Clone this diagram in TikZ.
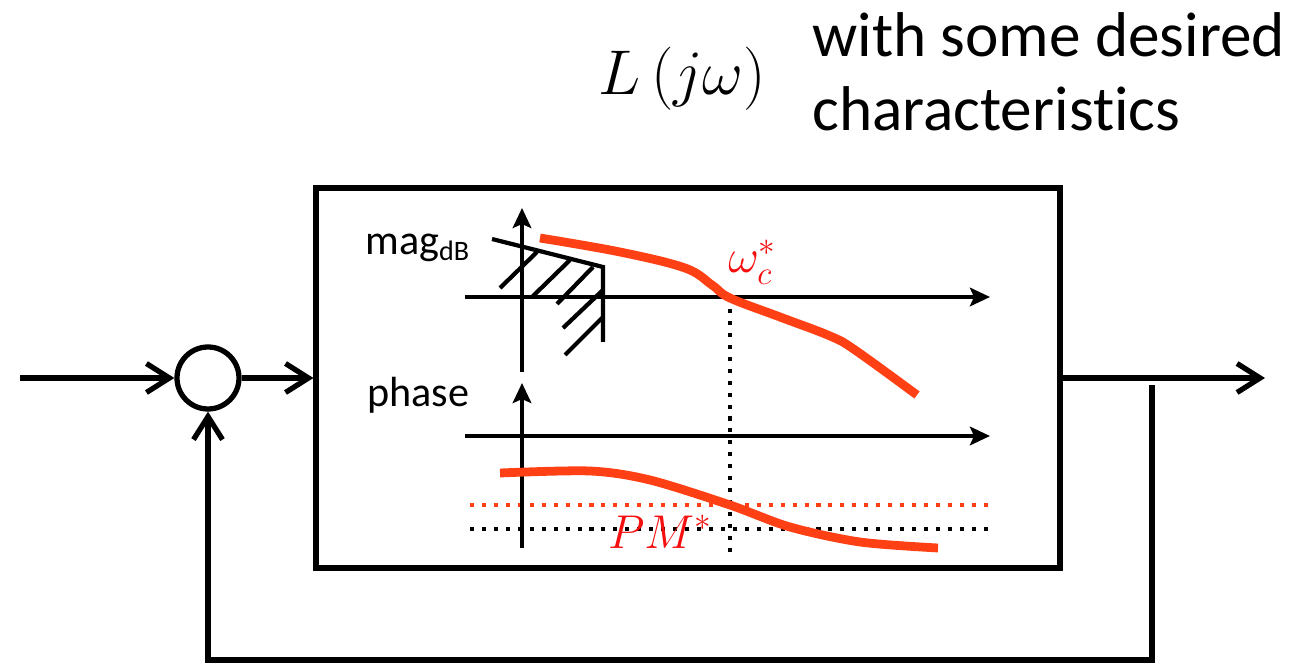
\RequirePackage{fix-cm}
\documentclass[tikz,border=0pt]{standalone}
\usepackage{fontspec}
\setmainfont[Ligatures=NoCommon]{Carlito}
\usetikzlibrary{arrows.meta}
\definecolor{bodered}{RGB}{255,64,20}
\definecolor{labelred}{RGB}{245,15,15}

\begin{document}
\begin{tikzpicture}[
  x=0.02cm, y=-0.02cm,
  wire/.style={line width=3pt},
  arrow/.style={wire, -{Straight Barb[length=0.46cm, width=0.58cm]}},
  axis/.style={line width=2.4pt, -{Stealth[length=0.4cm, width=0.37cm, inset=0.08cm]}},
  dots/.style={line width=2.3pt, dash pattern=on 2.3pt off 4.5pt},
  bode/.style={line width=5pt, bodered},
  lbl/.style={font=\fontsize{24}{28}\selectfont, inner sep=0pt},
  mlbl/.style={font=\fontsize{27}{31}\selectfont, text=labelred, inner sep=0pt}
]
\useasboundingbox (0,0) rectangle (1315,665);

% loop
\node (sum)  [circle, draw, wire, minimum size=1.24cm, inner sep=0pt] at (208,378) {};
\node (loop) [draw, wire, minimum width=14.88cm, minimum height=7.6cm, inner sep=0pt] at (688,378) {};
\coordinate (in)  at (20,378);
\coordinate (out) at (1265,378);
\coordinate (tap) at (1152,385);
\coordinate (bot) at (208,660);
\draw [arrow] (in) -- (sum);
\draw [arrow] (sum) -- (loop);
\draw [arrow] (loop) -- (out);
\draw [arrow] (tap) |- (bot) -- (sum);

% title
\node (gain) [anchor=base west, inner sep=0pt, font=\fontsize{36}{43}\selectfont] at (598,95) {$L\left(j\omega\right)$};
\node (goal) [anchor=north west, align=left, inner sep=0pt, font=\fontsize{36}{42.5}\selectfont] at (812,12) {with some desired\\characteristics};

% magnitude plot
\node (mag) [lbl, anchor=base west] at (365,255) {mag\raisebox{-3pt}{\fontsize{16}{16}\selectfont dB}};
\draw [dots] (730,297) -- (730,553);
\draw [axis] (465,297) -- (990,297);
\draw [axis] (522,372) -- (522,208);
\draw [line width=2.4pt] (492,239) -- (603,267) -- (603,342);
\foreach \a/\b/\c/\d in {500/288/537/252, 532/297/570/260, 557/304/593/267, 563/328/603/290, 565/355/603/317}
  \draw [line width=2.4pt] (\a,\b) -- (\c,\d);
\draw [bode] plot [smooth, tension=0.6] coordinates {(540,238) (620,252) (685,268) (712,285) (730,298) (780,317) (830,336) (855,350) (917,395)};
\node (wc) [mlbl, anchor=base west] at (728,273) {$\omega_c^*$};

% phase plot
\node (phase) [lbl, anchor=base west] at (367,407) {phase};
\draw [dots, bodered] (470,505) -- (990,505);
\draw [dots] (470,529) -- (990,529);
\draw [axis] (465,436) -- (990,436);
\draw [axis] (522,548) -- (522,383);
\draw [bode] plot [smooth, tension=0.5] coordinates {(500,473) (590,471) (650,480) (730,505) (790,527) (860,542) (938,548)};
\node (pm) [mlbl, anchor=base] at (660,548) {$PM^*$};
\end{tikzpicture}
\end{document}
